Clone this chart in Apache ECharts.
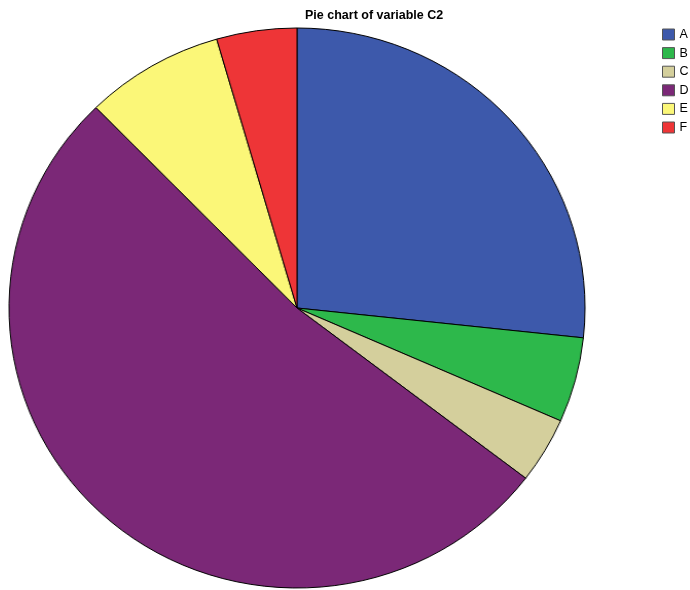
<!DOCTYPE html>
<html><head><meta charset="utf-8">
<script src="https://cdn.jsdelivr.net/npm/echarts@6/dist/echarts.min.js"></script>
<style>html,body{margin:0;padding:0;background:#fff}
#wrap{position:relative;width:690px;height:590px;overflow:hidden}
#p{position:absolute;left:0;top:0;width:690px;height:590px;transform:scaleX(1.0286);transform-origin:297px 50%}
#t{position:absolute;left:0;top:0;width:690px;height:590px}</style>
</head><body><div id="wrap"><div id="p"></div><div id="t"></div></div>
<script>
const categories = ["A","B","C","D","E","F"];
const values = [26.7, 4.9, 3.8, 52.3, 7.8, 4.5];
const colors = ["#3d59ab","#2db84b","#d4cf9c","#7b2877","#fbf778","#ee3537"];
const pieChart = echarts.init(document.getElementById('p'));
pieChart.setOption({
  animation:false,
  series:[{type:'pie', center:[297,308], radius:280, startAngle:90, clockwise:true,
    label:{show:false}, labelLine:{show:false}, emphasis:{disabled:true},
    itemStyle:{borderColor:'#000', borderWidth:1},
    data:categories.map((c,i)=>({name:c, value:values[i], itemStyle:{color:colors[i]}}))}]
});
const textChart = echarts.init(document.getElementById('t'));
textChart.setOption({
  animation:false,
  title:{text:'Pie chart of variable C2', left:300, top:4,
    textStyle:{fontFamily:'Liberation Sans, Arial, sans-serif', fontSize:12.5, fontWeight:'bold', color:'#000'}},
  legend:{orient:'vertical', left:657, top:23, itemWidth:12, itemHeight:11, itemGap:5.6,
    icon:'rect',
    itemStyle:{borderColor:'#555', borderWidth:1},
    textStyle:{fontFamily:'Liberation Sans, Arial, sans-serif', fontSize:12.5, color:'#000'},
    data:categories.map((c,i)=>({name:c, itemStyle:{color:colors[i]}}))},
  series:[{type:'pie', radius:0, silent:true, label:{show:false}, labelLine:{show:false},
    data:categories.map((c,i)=>({name:c, value:values[i], itemStyle:{color:colors[i]}}))}]
});
</script></body></html>
